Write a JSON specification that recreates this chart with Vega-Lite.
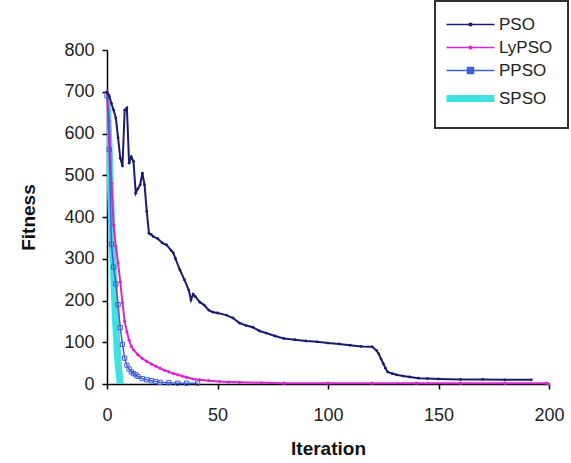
{
  "$schema": "https://vega.github.io/schema/vega-lite/v6.json",
  "autosize": {"type": "none"},
  "padding": {"left": 107, "top": 50, "right": 22, "bottom": 79},
  "width": 442,
  "height": 334,
  "background": "white",
  "config": {
    "view": {"stroke": null},
    "font": "Liberation Sans",
    "axis": {"grid": false, "domainColor": "#000", "domainWidth": 1.5, "tickColor": "#000", "tickWidth": 1.5, "tickSize": 5, "labelFont": "Liberation Sans", "labelFontSize": 18, "labelColor": "#222", "titleFont": "Liberation Sans", "titleFontSize": 19, "titleFontWeight": "bold", "titleColor": "#111"},
    "legend": {"strokeColor": "#333", "strokeWidth": 2, "fillColor": "white"}
  },
  "data": {"values": [
    {"s":"PSO","x":0,"y":699},{"s":"PSO","x":1,"y":690},{"s":"PSO","x":2,"y":672},{"s":"PSO","x":3,"y":656},{"s":"PSO","x":4,"y":637},{"s":"PSO","x":5,"y":590},{"s":"PSO","x":6,"y":541},{"s":"PSO","x":7,"y":522},{"s":"PSO","x":8,"y":656},{"s":"PSO","x":9,"y":661},{"s":"PSO","x":10,"y":529},{"s":"PSO","x":11,"y":544},{"s":"PSO","x":12,"y":533},{"s":"PSO","x":13,"y":457},{"s":"PSO","x":14,"y":468},{"s":"PSO","x":15,"y":477},{"s":"PSO","x":16,"y":505},{"s":"PSO","x":17,"y":477},{"s":"PSO","x":18,"y":413},{"s":"PSO","x":19,"y":361},{"s":"PSO","x":20,"y":358},{"s":"PSO","x":21,"y":353},{"s":"PSO","x":23,"y":348},{"s":"PSO","x":25,"y":338},{"s":"PSO","x":27,"y":333},{"s":"PSO","x":29,"y":320},{"s":"PSO","x":30,"y":314},{"s":"PSO","x":31,"y":300},{"s":"PSO","x":33,"y":273},{"s":"PSO","x":35,"y":250},{"s":"PSO","x":37,"y":225},{"s":"PSO","x":38,"y":201},{"s":"PSO","x":39,"y":215},{"s":"PSO","x":40,"y":209},{"s":"PSO","x":42,"y":196},{"s":"PSO","x":44,"y":189},{"s":"PSO","x":46,"y":177},{"s":"PSO","x":48,"y":172},{"s":"PSO","x":50,"y":170},{"s":"PSO","x":54,"y":165},{"s":"PSO","x":57,"y":158},{"s":"PSO","x":60,"y":146},{"s":"PSO","x":63,"y":140},{"s":"PSO","x":66,"y":136},{"s":"PSO","x":69,"y":127},{"s":"PSO","x":72,"y":122},{"s":"PSO","x":76,"y":115},{"s":"PSO","x":80,"y":109},{"s":"PSO","x":85,"y":106},{"s":"PSO","x":90,"y":103},{"s":"PSO","x":95,"y":101},{"s":"PSO","x":100,"y":98},{"s":"PSO","x":105,"y":96},{"s":"PSO","x":110,"y":93},{"s":"PSO","x":115,"y":90},{"s":"PSO","x":120,"y":89},{"s":"PSO","x":122,"y":80},{"s":"PSO","x":123,"y":72},{"s":"PSO","x":124,"y":60},{"s":"PSO","x":125,"y":49},{"s":"PSO","x":126,"y":38},{"s":"PSO","x":127,"y":29},{"s":"PSO","x":129,"y":25},{"s":"PSO","x":131,"y":22},{"s":"PSO","x":134,"y":19},{"s":"PSO","x":137,"y":17},{"s":"PSO","x":141,"y":14},{"s":"PSO","x":145,"y":13},{"s":"PSO","x":150,"y":12},{"s":"PSO","x":160,"y":11},{"s":"PSO","x":170,"y":11},{"s":"PSO","x":180,"y":10},{"s":"PSO","x":192,"y":10},
    {"s":"LyPSO","x":0,"y":700},{"s":"LyPSO","x":1,"y":630},{"s":"LyPSO","x":2,"y":480},{"s":"LyPSO","x":3,"y":380},{"s":"LyPSO","x":4,"y":330},{"s":"LyPSO","x":5,"y":290},{"s":"LyPSO","x":6,"y":245},{"s":"LyPSO","x":7,"y":195},{"s":"LyPSO","x":8,"y":150},{"s":"LyPSO","x":9,"y":125},{"s":"LyPSO","x":10,"y":105},{"s":"LyPSO","x":11,"y":90},{"s":"LyPSO","x":12,"y":82},{"s":"LyPSO","x":14,"y":70},{"s":"LyPSO","x":16,"y":61},{"s":"LyPSO","x":18,"y":54},{"s":"LyPSO","x":20,"y":48},{"s":"LyPSO","x":22,"y":43},{"s":"LyPSO","x":24,"y":38},{"s":"LyPSO","x":26,"y":33},{"s":"LyPSO","x":28,"y":29},{"s":"LyPSO","x":30,"y":25},{"s":"LyPSO","x":32,"y":22},{"s":"LyPSO","x":34,"y":19},{"s":"LyPSO","x":36,"y":16},{"s":"LyPSO","x":39,"y":12},{"s":"LyPSO","x":42,"y":10},{"s":"LyPSO","x":46,"y":8},{"s":"LyPSO","x":51,"y":6},{"s":"LyPSO","x":55,"y":5},{"s":"LyPSO","x":60,"y":4},{"s":"LyPSO","x":70,"y":3},{"s":"LyPSO","x":80,"y":2},{"s":"LyPSO","x":100,"y":2},{"s":"LyPSO","x":120,"y":2},{"s":"LyPSO","x":140,"y":2},{"s":"LyPSO","x":160,"y":2},{"s":"LyPSO","x":180,"y":2},{"s":"LyPSO","x":199,"y":2},{"s":"LyPSO","x":200,"y":0},
    {"s":"PPSO","x":0,"y":690},{"s":"PPSO","x":1,"y":562},{"s":"PPSO","x":2,"y":335},{"s":"PPSO","x":3,"y":280},{"s":"PPSO","x":4,"y":240},{"s":"PPSO","x":5,"y":190},{"s":"PPSO","x":6,"y":135},{"s":"PPSO","x":7,"y":95},{"s":"PPSO","x":8,"y":62},{"s":"PPSO","x":9,"y":45},{"s":"PPSO","x":10,"y":36},{"s":"PPSO","x":11,"y":29},{"s":"PPSO","x":12,"y":25},{"s":"PPSO","x":13,"y":22},{"s":"PPSO","x":14,"y":18},{"s":"PPSO","x":16,"y":13},{"s":"PPSO","x":18,"y":10},{"s":"PPSO","x":20,"y":8},{"s":"PPSO","x":22,"y":6},{"s":"PPSO","x":24,"y":4},{"s":"PPSO","x":28,"y":3},{"s":"PPSO","x":32,"y":2},{"s":"PPSO","x":36,"y":2},{"s":"PPSO","x":41,"y":2},
    {"s":"SPSO","x":0,"y":690},{"s":"SPSO","x":1,"y":560},{"s":"SPSO","x":2,"y":400},{"s":"SPSO","x":3,"y":260},{"s":"SPSO","x":4,"y":140},{"s":"SPSO","x":5,"y":50},{"s":"SPSO","x":6,"y":0}
  ]},
  "encoding": {
    "x": {"field": "x", "type": "quantitative", "scale": {"domain": [0, 200], "nice": false}, "axis": {"title": "Iteration", "values": [0, 50, 100, 150, 200], "labelPadding": 17, "titlePadding": 15, "labelFlush": false}},
    "y": {"field": "y", "type": "quantitative", "scale": {"domain": [0, 800], "nice": false}, "axis": {"title": "Fitness", "values": [0, 100, 200, 300, 400, 500, 600, 700, 800], "labelPadding": 8, "titlePadding": 25}},
    "color": {"field": "s", "type": "nominal", "scale": {"domain": ["PSO", "LyPSO", "PPSO", "SPSO"], "range": ["#1c1c6c", "#d926d0", "#3f5fd6", "#3ee0e0"]},
      "legend": {"title": null, "orient": "none", "legendX": 328, "legendY": -49, "padding": 15, "rowPadding": 5, "symbolType": "M-1,0H3", "symbolSize": 576, "symbolFillColor": "transparent", "labelFontSize": 17, "labelColor": "#222", "labelOffset": 32, "labelFont": "Liberation Sans",
        "encode": {"symbols": {"update": {
          "strokeWidth": {"signal": "datum.value === 'SPSO' ? 7 : 1.5"},
          "fill": {"value": "transparent"},
          "shape": {"signal": "datum.value === 'PPSO' ? 'M-1,0H0.75M1.25,0H3M0.75,-0.25H1.25V0.25H0.75Z' : datum.value === 'SPSO' ? 'M-1,0H3' : 'M-1,0H3M0.92,-0.08H1.08V0.08H0.92Z'"}
        }}}}}
  },
  "layer": [
    {"transform": [{"filter": "datum.s === 'SPSO'"}], "mark": {"type": "line", "clip": true, "strokeWidth": 7}},
    {"transform": [{"filter": "datum.s === 'LyPSO'"}], "mark": {"type": "line", "strokeWidth": 2, "point": {"filled": true, "size": 10}}},
    {"transform": [{"filter": "datum.s === 'PPSO'"}], "mark": {"type": "line", "strokeWidth": 1.5, "point": {"filled": false, "shape": "square", "size": 18, "strokeWidth": 1}}},
    {"transform": [{"filter": "datum.s === 'PSO'"}], "mark": {"type": "line", "strokeWidth": 2, "point": {"filled": true, "size": 8}}}
  ]
}
